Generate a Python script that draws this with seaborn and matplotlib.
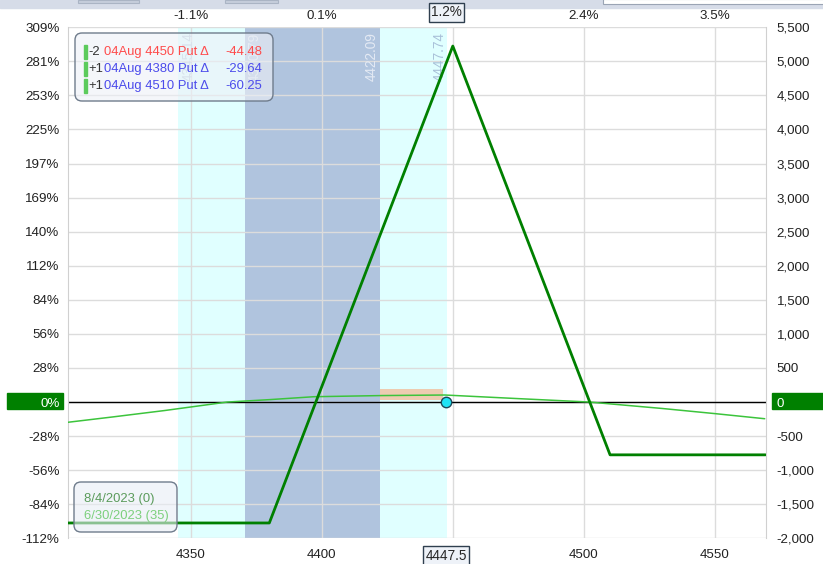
import matplotlib
matplotlib.use("Agg")
import matplotlib.pyplot as plt
import matplotlib.transforms as mtrans
from matplotlib.patches import Rectangle, FancyBboxPatch
import seaborn as sns
import pandas as pd

# ---------------- data ----------------
exp_x = [4303.2, 4380, 4450, 4510, 4569.3]
exp_pnl = [-1775, -1775, 5225, -775, -775]

t0_x = [4303, 4320, 4340, 4364, 4380, 4397, 4423, 4447, 4475, 4502, 4530, 4550, 4569]
t0_pnl = [-298, -220, -125, 0, 35, 78, 95, 103, 50, 0, -95, -170, -245]

y_ticks = [-2000, -1500, -1000, -500, 0, 500, 1000, 1500, 2000, 2500, 3000, 3500, 4000, 4500, 5000, 5500]
y_right_labels = ["-2,000", "-1,500", "-1,000", "-500", "0", "500", "1,000", "1,500", "2,000",
                  "2,500", "3,000", "3,500", "4,000", "4,500", "5,000", "5,500"]
y_left_labels = ["-112%", "-84%", "-56%", "-28%", "0%", "28%", "56%", "84%", "112%",
                 "140%", "169%", "197%", "225%", "253%", "281%", "309%"]
x_ticks = [4350, 4400, 4450, 4500, 4550]
x_labels = ["4350", "4400", "", "4500", "4550"]          # 4450 hidden under the price box
top_labels = ["-1.1%", "0.1%", "", "2.4%", "3.5%"]      # 1.2% shown in the price box

band_outer = (4345.14, 4447.74)
band_inner = (4370.79, 4422.09)
current_price = 4447.5
current_pct = "1.2%"
range_box = (4422.09, 4446.3, 35, 185)

legs_qty = ["-2", "+1", "+1"]
legs_desc = ["04Aug 4450 Put \u0394", "04Aug 4380 Put \u0394", "04Aug 4510 Put \u0394"]
legs_delta = ["-44.48", "-29.64", "-60.25"]
legs_color = ["#FF4B4B", "#4B4BEB", "#4B4BEB"]
dates = ["8/4/2023 (0)", "6/30/2023 (35)"]
date_colors = ["#5B9B5B", "#7DD07D"]

# ---------------- style ----------------
sns.set_style("white")
plt.rcParams["font.family"] = ["Liberation Sans", "DejaVu Sans"]

W, H = 823, 564
fig = plt.figure(figsize=(W / 100, H / 100), dpi=100, facecolor="white")
ax_l, ax_r, ax_t, ax_b = 68, 765.5, 27.3, 538.3
ax = fig.add_axes([ax_l / W, 1 - ax_b / H, (ax_r - ax_l) / W, (ax_b - ax_t) / H])
ident = mtrans.IdentityTransform()

xlim = (4303.2, 4569.3)
ylim = (-2000, 5500)
ax.set_xlim(*xlim)
ax.set_ylim(*ylim)

# bands
ax.axvspan(*band_outer, color="#E0FFFF", zorder=0.5, lw=0)
ax.axvspan(*band_inner, color="#B0C4DE", zorder=0.6, lw=0)

# grid
ax.set_axisbelow("line")
ax.grid(True, color="#DCDCDC", lw=1)
for s in ["top", "bottom"]:
    ax.spines[s].set_visible(False)
for s in ["left", "right"]:
    ax.spines[s].set_color("#D0D0D0")

# band labels
bt = mtrans.blended_transform_factory(ax.transData, ax.transAxes)
px_per_unit = (ax_r - ax_l) / (xlim[1] - xlim[0])
band_labels = [
    (band_outer[0], 11, "#B8CCDC"),
    (band_inner[0], 10, "#DDE5F0"),
    (band_inner[1], -8, "#E4EAF4"),
    (band_outer[1], -7, "#A9C1D9"),
]
for xv, off, col in band_labels:
    ax.text(xv + off / px_per_unit, 0.99, f"{xv:.2f}", rotation=90, va="top", ha="center",
            color=col, fontsize=9.8, transform=bt, zorder=1.8)

# orange range box
ax.add_patch(Rectangle((range_box[0], range_box[2]), range_box[1] - range_box[0],
                       range_box[3] - range_box[2], color="#F0C4A4", alpha=0.85, lw=0, zorder=2.2))

ax.axhline(0, color="black", lw=1, zorder=2.5)

df_t0 = pd.DataFrame({"x": t0_x, "pnl": t0_pnl})
df_exp = pd.DataFrame({"x": exp_x, "pnl": exp_pnl})
sns.lineplot(data=df_t0, x="x", y="pnl", ax=ax, color="#3CC43C", lw=1.1, estimator=None, zorder=3)
sns.lineplot(data=df_exp, x="x", y="pnl", ax=ax, color="#008000", lw=2, estimator=None, zorder=4)
ax.plot([current_price], [0], marker="o", ms=7.5, mfc="#1FE3F5", mec="#1D4A5A", mew=1, zorder=5)

ax.set_xlabel("")
ax.set_ylabel("")

# ticks
ax.set_xticks(x_ticks)
ax.set_xticklabels(x_labels)
ax.set_yticks(y_ticks)
ax.set_yticklabels(y_left_labels)
ax.tick_params(axis="both", length=0, labelsize=9.6, colors="#222222")
ax.tick_params(axis="y", pad=6)
ax.tick_params(axis="x", pad=8)
ax.get_yticklabels()[y_ticks.index(0)].set_color("white")

ax2 = ax.twinx()
ax2.set_ylim(*ylim)
ax2.set_yticks(y_ticks)
ax2.set_yticklabels(y_right_labels)
ax2.tick_params(axis="y", length=0, labelsize=9.6, colors="#222222", pad=8)
ax2.get_yticklabels()[y_ticks.index(0)].set_color("white")
for s in ax2.spines.values():
    s.set_visible(False)

ax3 = ax.twiny()
ax3.set_xlim(*xlim)
ax3.set_xticks(x_ticks)
ax3.set_xticklabels(top_labels)
ax3.tick_params(axis="x", length=0, labelsize=9.6, colors="#222222", pad=4)
for s in ax3.spines.values():
    s.set_visible(False)

# green zero label boxes
fig.add_artist(Rectangle((7, H - 409), 56, 16, color="#008000", transform=ident, zorder=-1))
fig.add_artist(Rectangle((772, H - 409), 51, 16, color="#008000", transform=ident, zorder=-1))

# current price boxes
bx = mtrans.blended_transform_factory(ax.transData, ident)
box_kw = dict(boxstyle="square,pad=0.15", fc="#EEF2F8", ec="#2F3F4F", lw=1)
fig.text(current_price, H - 12.5, current_pct, ha="center", va="center", fontsize=9.8,
         transform=bx, bbox=box_kw, zorder=6)
fig.text(current_price, H - 555.5, f"{current_price}", ha="center", va="center", fontsize=9.8,
         transform=bx, bbox=box_kw, zorder=6)

# top UI strip
fig.add_artist(Rectangle((0, H - 8), W, 8, color="#D6DCE8", transform=ident, zorder=6))
fig.add_artist(Rectangle((78, H - 3), 61, 3, fc="#C6CEDC", ec="#AAB4C4", lw=0.8, transform=ident, zorder=6))
fig.add_artist(Rectangle((225, H - 3), 53, 3, fc="#C6CEDC", ec="#AAB4C4", lw=0.8, transform=ident, zorder=6))
fig.add_artist(Rectangle((603, H - 4), 222, 5, fc="white", ec="#9AA4B4", lw=0.8, transform=ident, zorder=6))

# legs legend
fig.add_artist(FancyBboxPatch((75, H - 101), 198, 68, boxstyle="round,pad=0,rounding_size=7",
                              fc="#EEF1F7", ec="none", alpha=0.6, transform=ident, zorder=6))
fig.add_artist(FancyBboxPatch((75, H - 101), 198, 68, boxstyle="round,pad=0,rounding_size=7",
                              fc="none", ec="#6F7C8C", lw=1, transform=ident, zorder=6))
for i, (q, d, v, c) in enumerate(zip(legs_qty, legs_desc, legs_delta, legs_color)):
    yc = H - (52 + 17 * i)
    fig.add_artist(Rectangle((84, yc - 7), 3, 14, color="#5CCB5C", transform=ident, zorder=7))
    fig.text(88, yc, q, ha="left", va="center", fontsize=9.4, color="#333333", transform=ident, zorder=7)
    fig.text(104, yc, d, ha="left", va="center", fontsize=9.4, color=c, transform=ident, zorder=7)
    fig.text(262, yc, v, ha="right", va="center", fontsize=9.4, color=c, transform=ident, zorder=7)

# dates legend
fig.add_artist(FancyBboxPatch((74, H - 532), 103, 50, boxstyle="round,pad=0,rounding_size=7",
                              fc="#E9EDF5", ec="none", alpha=0.6, transform=ident, zorder=6))
fig.add_artist(FancyBboxPatch((74, H - 532), 103, 50, boxstyle="round,pad=0,rounding_size=7",
                              fc="none", ec="#6F7C8C", lw=1, transform=ident, zorder=6))
for i, (d, c) in enumerate(zip(dates, date_colors)):
    fig.text(84, H - (499 + 17 * i), d, ha="left", va="center", fontsize=9.4, color=c,
             transform=ident, zorder=7)

fig.savefig("out.png", dpi=100, facecolor="white")
